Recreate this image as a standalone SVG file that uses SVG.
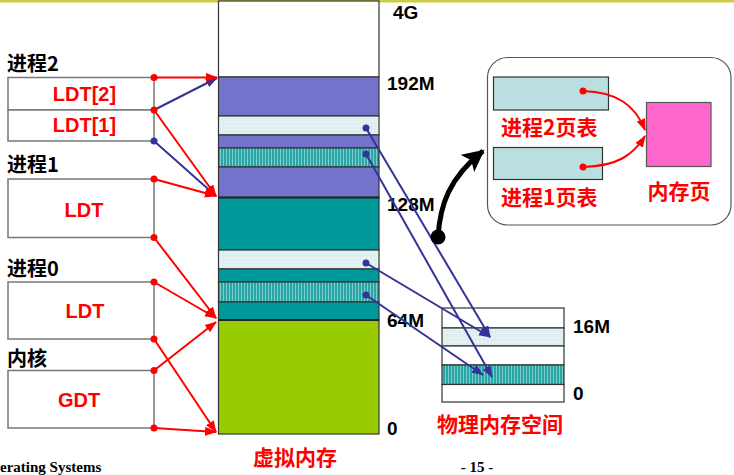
<svg xmlns="http://www.w3.org/2000/svg" width="734" height="475" viewBox="0 0 734 475">
<style>
.lbl{font-family:"Noto Sans CJK SC","Liberation Sans",sans-serif;font-size:20px;font-weight:bold;fill:#000}
.num{font-family:"Liberation Sans",Arial,sans-serif;font-size:19px;font-weight:bold;fill:#000}
.rt{font-family:"Liberation Sans",Arial,sans-serif;font-size:20px;font-weight:bold;fill:#FF0000;text-anchor:middle}
.rc{font-family:"Noto Sans CJK SC","Liberation Sans",sans-serif;font-size:21px;font-weight:bold;fill:#FF0000}
.box{fill:#fff;stroke:#777;stroke-width:1.5}
.seg{stroke:#333;stroke-width:1.2}
.red{stroke:#FF0000;stroke-width:2;fill:none;marker-end:url(#ra)}
.blue{stroke:#333399;stroke-width:2;fill:none;marker-end:url(#ba)}
.rd{fill:#FF0000}
.bd{fill:#333399}
.foot{font-family:"Liberation Serif","Times New Roman",serif;font-size:15px;font-weight:bold;fill:#000}
</style>
<defs>
<marker id="ra" markerUnits="userSpaceOnUse" markerWidth="12" markerHeight="10" refX="11" refY="4.5" orient="auto"><path d="M0,0 L12,4.5 L0,9 z" fill="#FF0000"/></marker>
<marker id="ba" markerUnits="userSpaceOnUse" markerWidth="12" markerHeight="10" refX="11" refY="4.5" orient="auto"><path d="M0,0 L12,4.5 L0,9 z" fill="#333399"/></marker>
<marker id="ka" markerUnits="userSpaceOnUse" markerWidth="24" markerHeight="22" refX="20" refY="11" orient="auto"><path d="M0,0 L22,11 L0,22 L5,11 z" fill="#000"/></marker>
<pattern id="lt" width="4" height="4" patternUnits="userSpaceOnUse"><rect width="4" height="4" fill="#DFEFEF"/><rect x="1" y="1" width="1" height="1" fill="#ffffff"/></pattern>
<pattern id="td" width="3" height="3" patternUnits="userSpaceOnUse"><rect width="3" height="3" fill="#2AA6A6"/><rect x="1" y="0" width="1" height="3" fill="#7CCCCC"/></pattern>
</defs>
<rect x="0" y="0" width="734" height="2.5" fill="#CCCC44"/>

<g id="virtual-memory">
<rect x="218.5" y="1" width="160.5" height="76" fill="#fff" class="seg"/>
<rect x="218.5" y="77" width="160.5" height="39" fill="#7373CC" class="seg"/>
<rect x="218.5" y="116" width="160.5" height="19" fill="url(#lt)" class="seg"/>
<rect x="218.5" y="135" width="160.5" height="13" fill="#7373CC" class="seg"/>
<rect x="218.5" y="148" width="160.5" height="19" fill="url(#td)" class="seg"/>
<rect x="218.5" y="167" width="160.5" height="30.5" fill="#7373CC" class="seg"/>
<rect x="218.5" y="197.5" width="160.5" height="52.5" fill="#009999" class="seg"/>
<line x1="218.5" y1="197.5" x2="379" y2="197.5" stroke="#222" stroke-width="2"/>
<rect x="218.5" y="250" width="160.5" height="19" fill="url(#lt)" class="seg"/>
<rect x="218.5" y="269" width="160.5" height="13" fill="#009999" class="seg"/>
<rect x="218.5" y="282" width="160.5" height="20" fill="url(#td)" class="seg"/>
<rect x="218.5" y="302" width="160.5" height="18" fill="#009999" class="seg"/>
<rect x="218.5" y="320" width="160.5" height="114" fill="#99CC00" class="seg"/>
<line x1="218.5" y1="320" x2="379" y2="320" stroke="#222" stroke-width="2"/>
<text class="num" x="393" y="19">4G</text>
<text class="num" x="387" y="90">192M</text>
<text class="num" x="387" y="211">128M</text>
<text class="num" x="387" y="327">64M</text>
<text class="num" x="387" y="435">0</text>
<text class="rc" x="295" y="465" text-anchor="middle">虚拟内存</text>
</g>

<g id="proc2">
<text class="lbl" x="7" y="71">进程2</text>
<rect class="box" x="8" y="77.5" width="146" height="32.5"/>
<text class="rt" x="84.5" y="101">LDT[2]</text>
<rect class="box" x="8" y="110" width="146" height="31"/>
<text class="rt" x="84.5" y="132">LDT[1]</text>
</g>
<g id="proc1">
<text class="lbl" x="7" y="172">进程1</text>
<rect class="box" x="8" y="179" width="146" height="58.5"/>
<text class="rt" x="84" y="217">LDT</text>
</g>
<g id="proc0">
<text class="lbl" x="7" y="276">进程0</text>
<rect class="box" x="8" y="282" width="146" height="57"/>
<text class="rt" x="85" y="318">LDT</text>
</g>
<g id="kernel">
<text class="lbl" x="7" y="366">内核</text>
<rect class="box" x="8" y="370.5" width="146" height="57.5"/>
<text class="rt" x="79" y="407">GDT</text>
</g>

<g id="physical-memory">
<rect x="442" y="308" width="122" height="20" fill="#fff" class="seg"/>
<rect x="442" y="328" width="122" height="18" fill="url(#lt)" class="seg"/>
<rect x="442" y="346" width="122" height="19" fill="#fff" class="seg"/>
<rect x="442" y="365" width="122" height="19.5" fill="url(#td)" class="seg"/>
<rect x="442" y="384.5" width="122" height="17.5" fill="#fff" class="seg"/>
<text class="num" x="573" y="333">16M</text>
<text class="num" x="573" y="400">0</text>
<text class="rc" x="500" y="432" text-anchor="middle">物理内存空间</text>
</g>

<g id="page-tables">
<rect x="487.5" y="57.5" width="243.5" height="167.5" rx="20" fill="#fff" stroke="#555" stroke-width="1.2"/>
<rect x="493.5" y="77" width="115" height="33" fill="#B9DFE0" stroke="#333" stroke-width="1.2"/>
<text class="rc" x="501" y="135">进程2页表</text>
<rect x="493.5" y="147.5" width="109" height="32" fill="#B9DFE0" stroke="#333" stroke-width="1.2"/>
<text class="rc" x="501" y="205">进程1页表</text>
<rect x="646.5" y="102.5" width="64.5" height="64" fill="#FF66CC" stroke="#555" stroke-width="1.2"/>
<text class="rc" x="679" y="199" text-anchor="middle">内存页</text>
<path class="red" d="M583,91 C617,92 635,105 645,130"/>
<circle class="rd" cx="583" cy="91" r="3.5"/>
<path class="red" d="M583,167 C618,166 633,155 645,136"/>
<circle class="rd" cx="583" cy="167" r="3.5"/>
</g>

<g id="connectors">
<line class="blue" x1="154" y1="110" x2="217" y2="78"/>
<line class="blue" x1="154" y1="141" x2="216" y2="196"/>
<circle class="bd" cx="154" cy="141" r="3.5"/>
<line class="red" x1="154" y1="77.5" x2="217" y2="77.5"/>
<line class="red" x1="154" y1="110" x2="216" y2="196"/>
<line class="red" x1="154" y1="179" x2="216" y2="196"/>
<line class="red" x1="154" y1="237.5" x2="216" y2="318"/>
<line class="red" x1="154" y1="282" x2="216" y2="318"/>
<line class="red" x1="154" y1="339" x2="216" y2="432"/>
<line class="red" x1="154" y1="370.5" x2="216" y2="322"/>
<line class="red" x1="154" y1="428" x2="216" y2="432"/>
<circle class="rd" cx="154" cy="77.5" r="3.5"/>
<circle class="rd" cx="154" cy="110" r="3.5"/>
<circle class="rd" cx="154" cy="179" r="3.5"/>
<circle class="rd" cx="154" cy="237.5" r="3.5"/>
<circle class="rd" cx="154" cy="282" r="3.5"/>
<circle class="rd" cx="154" cy="339" r="3.5"/>
<circle class="rd" cx="154" cy="370.5" r="3.5"/>
<circle class="rd" cx="154" cy="428" r="3.5"/>

<line class="blue" x1="366" y1="128" x2="490" y2="337"/>
<line class="blue" x1="366" y1="154" x2="492" y2="377"/>
<line class="blue" x1="366" y1="263" x2="490" y2="337"/>
<line class="blue" x1="366" y1="295" x2="483" y2="375"/>
<circle class="bd" cx="366" cy="128" r="3.5"/>
<circle class="bd" cx="366" cy="154" r="3.5"/>
<circle class="bd" cx="366" cy="263" r="3.5"/>
<circle class="bd" cx="366" cy="295" r="3.5"/>

<path d="M438,237 C440,205 449,178 483,151" fill="none" stroke="#000" stroke-width="5" marker-end="url(#ka)"/>
<circle cx="438" cy="237" r="7.5" fill="#000"/>
</g>

<text class="foot" x="0" y="472">erating Systems</text>
<text class="foot" x="477" y="472" text-anchor="middle">- 15 -</text>
</svg>
